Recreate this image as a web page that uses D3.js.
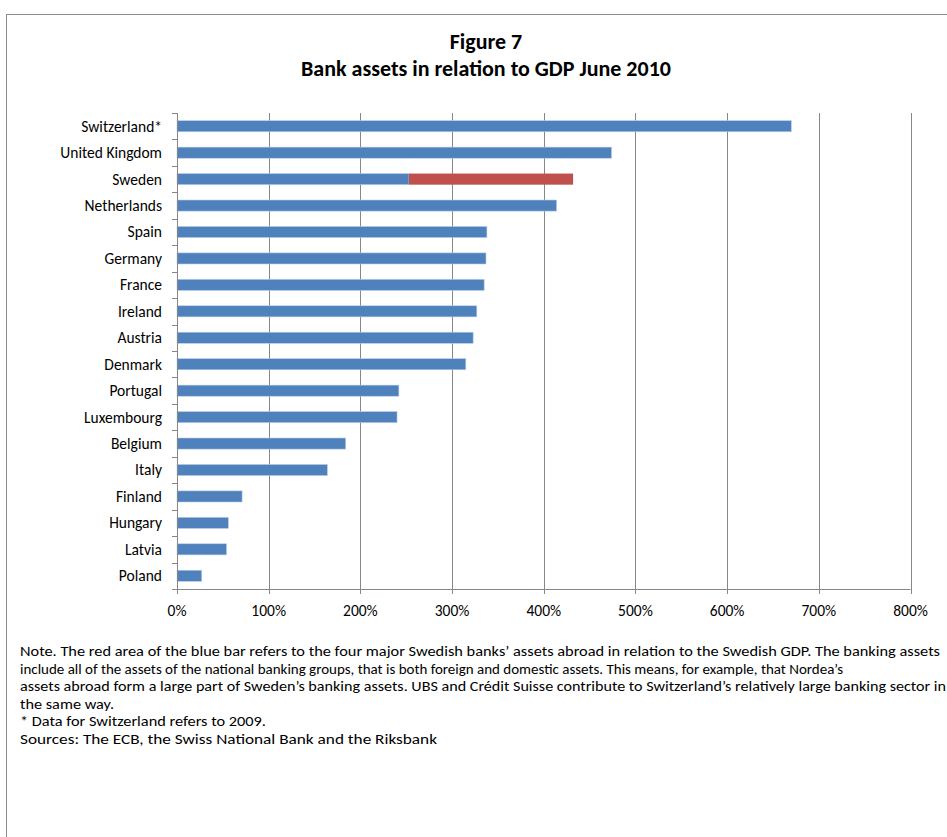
<!DOCTYPE html>
<html>
<head>
<meta charset="utf-8">
<script src="https://cdn.jsdelivr.net/npm/d3@7"></script>
<style>
  html, body { margin: 0; padding: 0; background: #fff; }
  svg { display: block; }
  text { font-family: Carlito, Lato, "Open Sans", sans-serif; fill: #000; }
</style>
</head>
<body>
<svg id="chart" width="947" height="837"></svg>
<script>
const categories = ["Switzerland*", "United Kingdom", "Sweden", "Netherlands", "Spain", "Germany", "France", "Ireland", "Austria", "Denmark", "Portugal", "Luxembourg", "Belgium", "Italy", "Finland", "Hungary", "Latvia", "Poland"];
const domesticValues = [670, 474, 253, 414, 338, 337, 335, 327, 323, 315, 242, 240, 184, 164, 71, 56, 54, 27];
const abroadValues   = [0, 0, 179, 0, 0, 0, 0, 0, 0, 0, 0, 0, 0, 0, 0, 0, 0, 0];
const xTicks = [0, 100, 200, 300, 400, 500, 600, 700, 800];
const titleLines = ["Figure 7", "Bank assets in relation to GDP June 2010"];
const noteLines = [
  "Note. The red area of the blue bar refers to the four major Swedish banks\u2019 assets abroad in relation to the Swedish GDP. The banking assets",
  "include all of the assets of the national banking groups, that is both foreign and domestic assets. This means, for  example, that Nordea\u2019s",
  "assets abroad form a large part of Sweden\u2019s banking assets. UBS and Cr\u00e9dit Suisse contribute to Switzerland\u2019s relatively large banking sector in",
  "the same way.",
  "* Data for Switzerland refers to 2009.",
  "Sources: The ECB, the Swiss National Bank and the Riksbank"
];
const noteWidths = [920, 823, 926, 94, 246, 417];

const svg = d3.select("#chart");

// outer frame
svg.append("rect").attr("x", 6.5).attr("y", 14.5).attr("width", 1000).attr("height", 1000)
  .attr("fill", "none").attr("stroke", "#8c8c8c").attr("stroke-width", 1);

// title
svg.selectAll("text.title").data(titleLines).join("text")
  .attr("class", "title")
  .attr("x", 486).attr("y", (d, i) => 49 + i * 27)
  .attr("text-anchor", "middle")
  .style("font-weight", "bold").style("font-size", "22px")
  .text(d => d);

const pLeft = 177, pRight = 910.5, pTop = 113, pBottom = 589;
const x = d3.scaleLinear().domain([0, 800]).range([pLeft, pRight]);
const y = d3.scaleBand().domain(categories).range([pTop, pBottom]).paddingInner(0.58).paddingOuter(0.29);

// gridlines
svg.append("g").selectAll("line").data(xTicks.slice(1)).join("line")
  .attr("x1", d => Math.round(x(d)) + 0.5).attr("x2", d => Math.round(x(d)) + 0.5)
  .attr("y1", pTop).attr("y2", pBottom)
  .attr("stroke", "#878787").attr("stroke-width", 1);

// bars
const data = categories.map((c, i) => ({c, dom: domesticValues[i], abr: abroadValues[i]}));
svg.append("g").selectAll("rect").data(data).join("rect")
  .attr("x", x(0)).attr("y", d => y(d.c))
  .attr("width", d => x(d.dom) - x(0)).attr("height", y.bandwidth())
  .attr("fill", "#4F81BD").attr("stroke", "#b9cde5").attr("stroke-width", 0.6);
svg.append("g").selectAll("rect").data(data.filter(d => d.abr > 0)).join("rect")
  .attr("x", d => x(d.dom)).attr("y", d => y(d.c))
  .attr("width", d => x(d.dom + d.abr) - x(d.dom)).attr("height", y.bandwidth())
  .attr("fill", "#C0504D");

// y axis
const yAxisG = svg.append("g");
yAxisG.append("line").attr("x1", pLeft + 0.5).attr("x2", pLeft + 0.5).attr("y1", pTop).attr("y2", pBottom)
  .attr("stroke", "#878787");
const boundaries = d3.range(categories.length + 1).map(i => pTop + i * (pBottom - pTop) / categories.length);
yAxisG.selectAll("line.tk").data(boundaries).join("line").attr("class", "tk")
  .attr("x1", pLeft - 5).attr("x2", pLeft).attr("y1", d => Math.round(d) + 0.5).attr("y2", d => Math.round(d) + 0.5)
  .attr("stroke", "#878787");
yAxisG.selectAll("text").data(categories).join("text")
  .attr("x", 162).attr("y", d => y(d) + y.bandwidth() / 2)
  .attr("dy", "0.35em").attr("text-anchor", "end")
  .style("font-size", "15.5px")
  .text(d => d);

// x axis
const xAxisG = svg.append("g");
xAxisG.append("line").attr("x1", pLeft - 5).attr("x2", pRight).attr("y1", pBottom + 0.5).attr("y2", pBottom + 0.5)
  .attr("stroke", "#878787");
xAxisG.selectAll("line.tk").data(xTicks).join("line").attr("class", "tk")
  .attr("x1", d => Math.round(x(d)) + 0.5).attr("x2", d => Math.round(x(d)) + 0.5)
  .attr("y1", pBottom).attr("y2", pBottom + 5)
  .attr("stroke", "#878787");
xAxisG.selectAll("text").data(xTicks).join("text")
  .attr("x", d => x(d)).attr("y", 615.5)
  .attr("text-anchor", "middle")
  .style("font-size", "15.5px")
  .text(d => d + "%");

// notes
svg.selectAll("text.note").data(noteLines).join("text")
  .attr("class", "note")
  .attr("x", 20).attr("y", (d, i) => 656 + i * 17.6)
  .attr("textLength", (d, i) => noteWidths[i]).attr("lengthAdjust", "spacingAndGlyphs")
  .style("font-size", "15px")
  .text(d => d);
</script>
</body>
</html>
